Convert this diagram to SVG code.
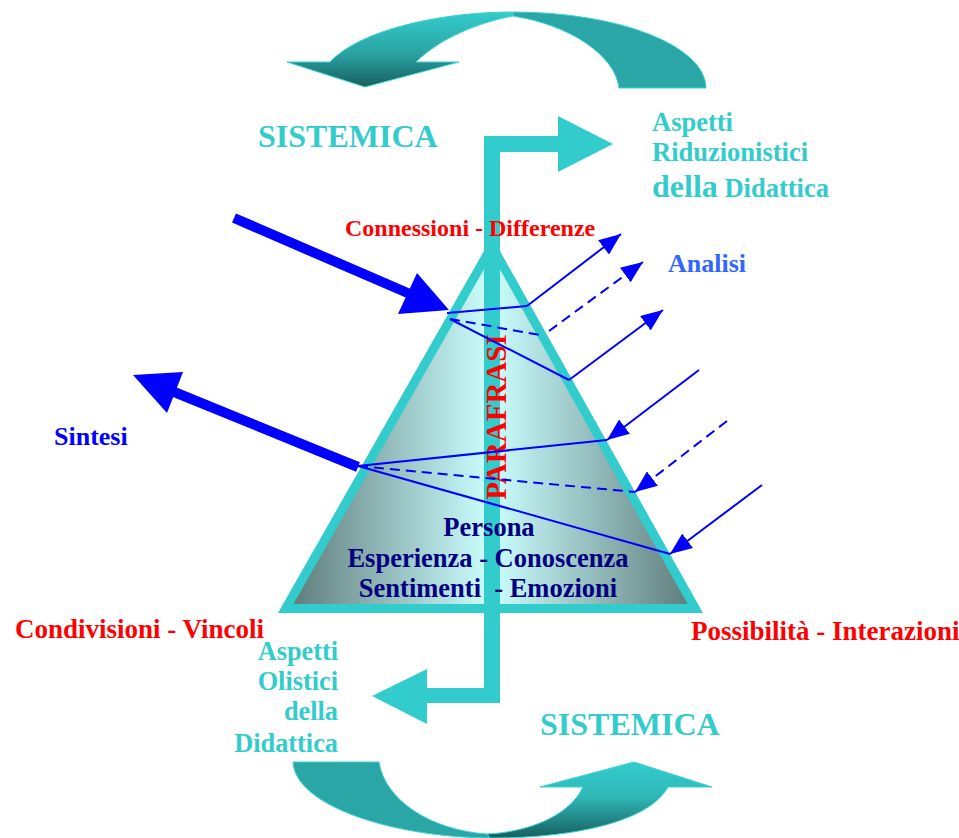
<svg xmlns="http://www.w3.org/2000/svg" width="959" height="838" viewBox="0 0 959 838">
<style>
text{font-family:"Liberation Serif","Times New Roman",serif;font-weight:bold}
.cy{fill:#33cccc}
.red{fill:#ff0000}
.navy{fill:#000080}
.thin{fill:none;stroke:#0000ff;stroke-width:2}
.dash{stroke-dasharray:10 6}
.big{fill:none;stroke:#0000ff;stroke-width:10}
.head{fill:#0000ff}
</style>
<defs>
<linearGradient id="tri" gradientUnits="userSpaceOnUse" x1="285" y1="0" x2="697" y2="0">
<stop offset="0" stop-color="#5c7878"/>
<stop offset="0.5" stop-color="#ccffff"/>
<stop offset="1" stop-color="#5c7878"/>
</linearGradient>
<linearGradient id="gTop" gradientUnits="userSpaceOnUse" x1="0" y1="12" x2="0" y2="87">
<stop offset="0" stop-color="#33cccc"/>
<stop offset="0.55" stop-color="#2aa3a3"/>
<stop offset="1" stop-color="#175f5f"/>
</linearGradient>
<linearGradient id="gBot" gradientUnits="userSpaceOnUse" x1="0" y1="762" x2="0" y2="838">
<stop offset="0" stop-color="#33cccc"/>
<stop offset="0.45" stop-color="#2fb8b8"/>
<stop offset="1" stop-color="#175f5f"/>
</linearGradient>
<marker id="ah" viewBox="0 0 22 18" refX="22" refY="9" markerWidth="22" markerHeight="18" markerUnits="userSpaceOnUse" orient="auto">
<path d="M0,0 L22,9 L0,18 Z" fill="#0000ff"/>
</marker>
</defs>

<g id="cycle-top">
<path d="M513,12 A193,76 0 0 1 706,88 L619,88 C615,55 570,25 513,16 Z" fill="#2aa6a6" stroke="#3cd2d2" stroke-width="1"/>
<path d="M287,62 L330,62 C360,30 440,12 513,12 L513,16 C480,22 440,38 416,62 L459,62 L365,87 Z" fill="url(#gTop)" stroke="#3cd2d2" stroke-width="1"/>
</g>

<g id="cycle-bottom">
<path d="M293,762 L379,762 C385,800 430,830 487,834 L490,838 C390,837 295,805 293,762 Z" fill="#2aa6a6" stroke="#3cd2d2" stroke-width="1"/>
<path d="M487,834 C530,832 570,815 583,787 L540,787 L634,762 L712,787 L668,787 C650,820 580,838 490,838 Z" fill="url(#gBot)" stroke="#3cd2d2" stroke-width="1"/>
</g>

<g id="pyramid">
<polygon points="285.7,608.5 492,246 695.3,608.5" fill="url(#tri)" stroke="#33cccc" stroke-width="9" stroke-linejoin="miter"/>
</g>

<g id="parafrasi-bar">
<path d="M484,136 L558,136 L558,116 L613,144 L558,172 L558,152 L500,152 L500,703 L427,703 L427,724 L372,696 L427,669 L427,688 L484,688 Z" fill="#33cccc"/>
<text transform="translate(506,417) rotate(-90)" text-anchor="middle" font-size="29" class="red">PARAFRASI</text>
</g>

<g id="connectors">
<line class="big" x1="234" y1="218" x2="410" y2="294"/>
<polygon class="head" points="417,273 449,310 398,314"/>
<line class="big" x1="358" y1="467" x2="173" y2="391.5"/>
<polygon class="head" points="183,372 133,375 167,413"/>
<line class="thin" x1="447" y1="313" x2="527" y2="306"/>
<line class="thin" x1="527" y1="306" x2="621" y2="234" marker-end="url(#ah)"/>
<line class="thin dash" x1="450" y1="319" x2="540" y2="335"/>
<line class="thin dash" x1="549" y1="331" x2="643" y2="262" marker-end="url(#ah)"/>
<line class="thin" x1="450" y1="319" x2="569" y2="380"/>
<line class="thin" x1="569" y1="380" x2="663" y2="310" marker-end="url(#ah)"/>
<line class="thin" x1="358" y1="466" x2="607" y2="440"/>
<line class="thin" x1="699" y1="370" x2="607" y2="440" marker-end="url(#ah)"/>
<line class="thin dash" x1="358" y1="466" x2="635" y2="492"/>
<line class="thin dash" x1="727" y1="421" x2="635" y2="492" marker-end="url(#ah)"/>
<line class="thin" x1="358" y1="466" x2="670" y2="554"/>
<line class="thin" x1="762" y1="485" x2="670" y2="554" marker-end="url(#ah)"/>
</g>

<g id="labels">
<text x="258" y="147" font-size="32" class="cy">SISTEMICA</text>
<text x="540" y="735" font-size="32" class="cy">SISTEMICA</text>
<text x="652" y="131" font-size="26.5" class="cy">Aspetti</text>
<text x="652" y="161" font-size="26.5" class="cy">Riduzionistici</text>
<text x="652" y="197" font-size="26.5" class="cy"><tspan font-size="32">della</tspan> Didattica</text>
<text x="345" y="236" font-size="24" class="red">Connessioni - Differenze</text>
<text x="668" y="272" font-size="26" fill="#3366ff">Analisi</text>
<text x="54" y="445" font-size="26" fill="#0000ff">Sintesi</text>
<text x="489" y="536" font-size="26.5" text-anchor="middle" class="navy">Persona</text>
<text x="488" y="567" font-size="26.5" text-anchor="middle" class="navy">Esperienza - Conoscenza</text>
<text x="488" y="597" font-size="26.5" text-anchor="middle" class="navy" xml:space="preserve">Sentimenti  - Emozioni</text>
<text x="15" y="638" font-size="27" class="red">Condivisioni - Vincoli</text>
<text x="691" y="640" font-size="27" class="red">Possibilità - Interazioni</text>
<text x="338" y="660" font-size="26.3" text-anchor="end" class="cy">Aspetti</text>
<text x="338" y="690" font-size="26.3" text-anchor="end" class="cy">Olistici</text>
<text x="338" y="720" font-size="26.3" text-anchor="end" class="cy">della</text>
<text x="338" y="752" font-size="26.3" text-anchor="end" class="cy">Didattica</text>
</g>
</svg>
